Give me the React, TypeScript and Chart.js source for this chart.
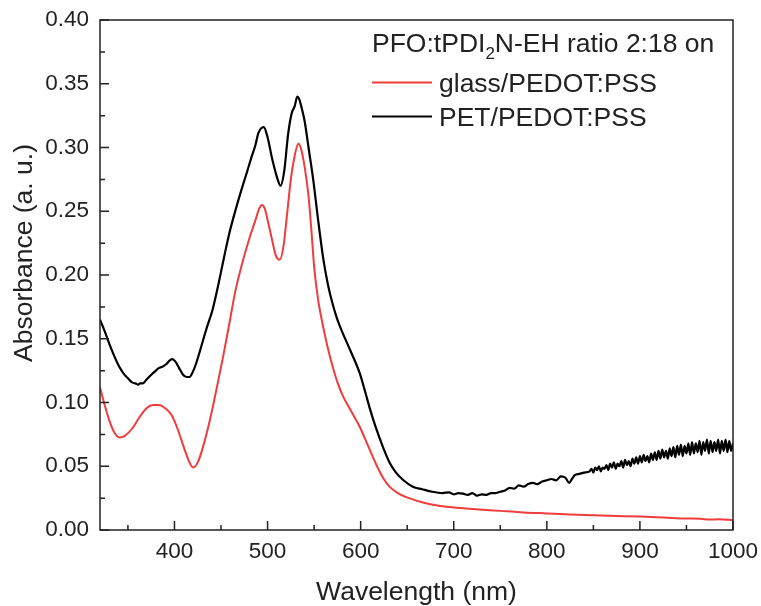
import React, { useEffect, useRef } from "react";
import { Chart, registerables } from "chart.js";

Chart.register(...registerables);

// ---- Data ----
const glassWl = [
  320, 325, 330, 335, 341, 347, 355, 362, 370, 377,
  383, 390, 397, 403, 410, 415, 420, 425, 431, 438,
  445, 452, 459, 465, 472, 481, 487, 491, 494, 497,
  501, 505, 509, 513, 517, 521, 525, 529, 533, 536,
  540, 544, 547, 550, 554, 559, 565, 570, 575, 581,
  590, 599, 608, 617, 624, 631, 640, 652, 670, 695,
  720, 750, 775, 800, 825, 850, 875, 900, 925, 950,
  965, 975, 985, 1000,
];
const glassAbs = [
  0.112, 0.098, 0.086, 0.077, 0.0725, 0.074, 0.08, 0.088, 0.0955, 0.098,
  0.098, 0.0955, 0.09, 0.08, 0.065, 0.055, 0.049, 0.053, 0.066, 0.086,
  0.11, 0.135, 0.162, 0.186, 0.207, 0.23, 0.243, 0.252, 0.255, 0.252,
  0.24, 0.227, 0.215, 0.212, 0.222, 0.248, 0.275, 0.293, 0.303, 0.299,
  0.284, 0.262, 0.236, 0.207, 0.182, 0.162, 0.142, 0.128, 0.116, 0.105,
  0.093, 0.081, 0.066, 0.051, 0.041, 0.034, 0.029, 0.025, 0.021, 0.018,
  0.0165, 0.015, 0.0138, 0.013, 0.0122, 0.0115, 0.011, 0.0105, 0.0098, 0.009,
  0.0088, 0.0082, 0.0084, 0.0077,
];

const petWl = [
  320, 325, 330, 335, 340, 345, 350, 354, 358, 361,
  363, 366, 370, 374, 377, 380, 383, 387, 391, 395,
  398, 401, 405, 409, 413, 416, 419, 423, 428, 434,
  441, 447, 453, 459, 466, 472, 478, 483, 487, 490,
  493, 496, 500, 505, 510, 514, 518, 522, 526, 529,
  532, 534, 537, 540, 544, 549, 554, 560, 565, 570,
  575, 581, 590, 599, 605, 610, 616, 624, 631, 638,
  646, 656, 666, 677, 688, 695, 700, 705, 710, 715,
  720, 725, 730, 735, 740, 745, 750, 755, 760, 765,
  770, 775, 780, 785, 790, 795, 800, 805, 810, 815,
  820, 824, 827, 830, 835, 840,
  846, 848, 850, 852, 854, 856, 858, 860, 862, 864,
  866, 868, 870, 872, 874, 876, 878, 880, 882, 884,
  886, 888, 890, 892, 894, 896, 898, 900, 902, 904,
  906, 908, 910, 912, 914, 916, 918, 920, 922, 924,
  926, 928, 930, 932, 934, 936, 938, 940, 942, 944,
  946, 948, 950, 952, 954, 956, 958, 960, 962, 964,
  966, 968, 970, 972, 974, 976, 978, 980, 982, 984,
  986, 988, 990, 992, 994, 996, 998, 1000,
];
const petAbs = [
  0.165, 0.156, 0.146, 0.137, 0.129, 0.123, 0.119, 0.116, 0.115, 0.114,
  0.115, 0.115, 0.118, 0.121, 0.123, 0.125, 0.127, 0.128, 0.13, 0.133,
  0.134, 0.132, 0.127, 0.122, 0.12, 0.12, 0.123, 0.13, 0.142, 0.157,
  0.173, 0.192, 0.213, 0.233, 0.252, 0.267, 0.281, 0.293, 0.302, 0.311,
  0.315, 0.316, 0.308, 0.291, 0.277, 0.27, 0.282, 0.31, 0.327, 0.332,
  0.34, 0.338, 0.33, 0.32, 0.3, 0.275, 0.245, 0.212, 0.192, 0.177,
  0.165, 0.154, 0.139, 0.123, 0.108, 0.095, 0.081, 0.065, 0.053, 0.045,
  0.039, 0.034, 0.032, 0.03, 0.029, 0.0295, 0.028, 0.029, 0.0285, 0.0275,
  0.029, 0.027, 0.028, 0.0275, 0.029, 0.029, 0.03, 0.031, 0.033, 0.0325,
  0.035, 0.034, 0.036, 0.037, 0.036, 0.038, 0.039, 0.04, 0.039, 0.042,
  0.041, 0.037, 0.04, 0.043, 0.044, 0.045,
  0.046, 0.048, 0.045, 0.049, 0.047, 0.05, 0.046, 0.049, 0.048, 0.051,
  0.047, 0.052, 0.049, 0.053, 0.048, 0.052, 0.05, 0.054, 0.049, 0.055,
  0.051, 0.054, 0.05, 0.056, 0.052, 0.057, 0.052, 0.058, 0.053, 0.059,
  0.054, 0.058, 0.053, 0.06, 0.055, 0.061, 0.055, 0.062, 0.056, 0.063,
  0.057, 0.062, 0.056, 0.064, 0.058, 0.065, 0.057, 0.066, 0.059, 0.067,
  0.058, 0.066, 0.06, 0.068, 0.059, 0.069, 0.06, 0.068, 0.061, 0.07,
  0.059, 0.069, 0.062, 0.071, 0.06, 0.07, 0.061, 0.069, 0.062, 0.071,
  0.06, 0.07, 0.062, 0.071, 0.061, 0.07, 0.062, 0.068,
];

const xTickValues = [400, 500, 600, 700, 800, 900, 1000];
const xMinorTicks = [350, 450, 550, 650, 750, 850, 950];
const yTickValues = [0, 0.05, 0.1, 0.15, 0.2, 0.25, 0.3, 0.35, 0.4];
const yMinorTicks = [0.025, 0.075, 0.125, 0.175, 0.225, 0.275, 0.325, 0.375];

const legendTitleA = "PFO:tPDI";
const legendTitleSub = "2";
const legendTitleB = "N-EH ratio 2:18 on";
const glassLabel = "glass/PEDOT:PSS";
const petLabel = "PET/PEDOT:PSS";
const xTitle = "Wavelength (nm)";
const yTitle = "Absorbance (a. u.)";

const FONT = '"Liberation Sans", Arial, Helvetica, sans-serif';
const RED = "#f03c3c";
const INK = "#222";

export default function App() {
  const ref = useRef<HTMLCanvasElement>(null);

  useEffect(() => {
    document.body.style.margin = "0";
    const canvas = ref.current;
    if (!canvas) return;

    const decor = {
      id: "decor",
      afterDatasetsDraw(chart: any) {
        const { ctx, chartArea: a, scales } = chart;
        const x = scales.x;
        const y = scales.y;
        ctx.save();
        // frame
        ctx.strokeStyle = INK;
        ctx.lineWidth = 1.5;
        ctx.strokeRect(a.left, a.top, a.right - a.left, a.bottom - a.top);
        // inward ticks
        ctx.beginPath();
        xTickValues.forEach((v) => {
          const p = x.getPixelForValue(v);
          ctx.moveTo(p, a.bottom);
          ctx.lineTo(p, a.bottom - 9);
        });
        xMinorTicks.forEach((v) => {
          const p = x.getPixelForValue(v);
          ctx.moveTo(p, a.bottom);
          ctx.lineTo(p, a.bottom - 5);
        });
        yTickValues.forEach((v) => {
          const p = y.getPixelForValue(v);
          ctx.moveTo(a.left, p);
          ctx.lineTo(a.left + 9, p);
        });
        yMinorTicks.forEach((v) => {
          const p = y.getPixelForValue(v);
          ctx.moveTo(a.left, p);
          ctx.lineTo(a.left + 5, p);
        });
        ctx.stroke();

        // legend
        ctx.fillStyle = INK;
        ctx.textBaseline = "alphabetic";
        ctx.textAlign = "left";
        ctx.font = `26.5px ${FONT}`;
        let tx = 372;
        const ty = 52;
        ctx.fillText(legendTitleA, tx, ty);
        tx += ctx.measureText(legendTitleA).width;
        ctx.font = `17px ${FONT}`;
        ctx.fillText(legendTitleSub, tx, ty + 7);
        tx += ctx.measureText(legendTitleSub).width;
        ctx.font = `26.5px ${FONT}`;
        ctx.fillText(legendTitleB, tx, ty);

        ctx.lineWidth = 2;
        ctx.strokeStyle = RED;
        ctx.beginPath();
        ctx.moveTo(372, 82.5);
        ctx.lineTo(432, 82.5);
        ctx.stroke();
        ctx.strokeStyle = "#000";
        ctx.beginPath();
        ctx.moveTo(372, 116.5);
        ctx.lineTo(432, 116.5);
        ctx.stroke();
        ctx.fillText(glassLabel, 439, 91.5);
        ctx.fillText(petLabel, 439, 125.5);

        // axis titles
        ctx.font = `26.5px ${FONT}`;
        ctx.textAlign = "center";
        ctx.fillText(xTitle, (a.left + a.right) / 2, 600);
        ctx.translate(25, 253);
        ctx.rotate(-Math.PI / 2);
        ctx.textBaseline = "middle";
        ctx.fillText(yTitle, 0, 0);
        ctx.restore();
      },
    };

    const chart = new Chart(canvas, {
      type: "line",
      data: {
        datasets: [
          {
            label: petLabel,
            data: petWl.map((w, i) => ({ x: w, y: petAbs[i] })),
            borderColor: "#000",
            borderWidth: 2.2,
            pointRadius: 0,
            cubicInterpolationMode: "monotone",
          },
          {
            label: glassLabel,
            data: glassWl.map((w, i) => ({ x: w, y: glassAbs[i] })),
            borderColor: RED,
            borderWidth: 2,
            pointRadius: 0,
            cubicInterpolationMode: "monotone",
          },
        ],
      },
      options: {
        responsive: false,
        maintainAspectRatio: false,
        animation: false,
        layout: { padding: { top: 20, right: 28, left: 0, bottom: 0 } },
        plugins: { legend: { display: false }, tooltip: { enabled: false } },
        scales: {
          x: {
            type: "linear",
            min: 320,
            max: 1000,
            afterBuildTicks: (s: any) => {
              s.ticks = xTickValues.map((v) => ({ value: v }));
            },
            afterFit: (s: any) => {
              s.height = 76;
              s.paddingLeft = 0;
              s.paddingRight = 0;
            },
            grid: { display: false, drawTicks: false },
            border: { display: false },
            ticks: {
              font: { family: FONT, size: 22.5 },
              color: INK,
              padding: 8,
              maxRotation: 0,
              autoSkip: false,
              callback: (v: any) => String(v),
            },
          },
          y: {
            type: "linear",
            min: 0,
            max: 0.4,
            afterBuildTicks: (s: any) => {
              s.ticks = yTickValues.map((v) => ({ value: v }));
            },
            afterFit: (s: any) => {
              s.width = 100;
              s.paddingTop = 0;
              s.paddingBottom = 0;
            },
            grid: { display: false, drawTicks: false },
            border: { display: false },
            ticks: {
              font: { family: FONT, size: 22.5 },
              color: INK,
              padding: 11,
              autoSkip: false,
              callback: (v: any) => Number(v).toFixed(2),
            },
          },
        },
      },
      plugins: [decor],
    });

    return () => chart.destroy();
  }, []);

  return (
    <canvas
      ref={ref}
      width={761}
      height={606}
      style={{ display: "block", width: 761, height: 606 }}
    />
  );
}
